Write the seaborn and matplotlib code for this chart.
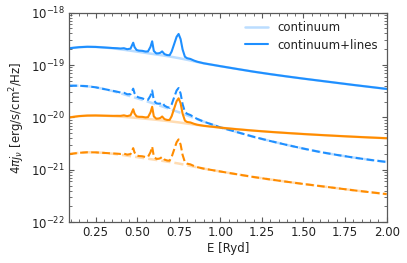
import numpy as np
import matplotlib
matplotlib.use("Agg")
import matplotlib.pyplot as plt
import seaborn as sns
from matplotlib.ticker import MultipleLocator, LogLocator, NullFormatter

# energy grid of the smooth continua [Ryd]
E_cont = [0.0911, 0.15, 0.20, 0.25, 0.30, 0.35, 0.40, 0.45, 0.50, 0.55, 0.60, 0.65,
          0.70, 0.75, 0.80, 0.85, 0.90, 1.0, 1.1, 1.2, 1.3, 1.4, 1.5, 1.6, 1.7,
          1.8, 1.9, 2.0]

# log10 of 4 pi j_nu, continuum only
log_cont_blue = [-18.680, -18.660, -18.652, -18.655, -18.665, -18.680, -18.700, -18.722,
                 -18.745, -18.768, -18.792, -18.815, -18.840, -18.868, -18.900, -18.935,
                 -18.967, -19.022, -19.075, -19.127, -19.174, -19.218, -19.260, -19.300,
                 -19.340, -19.380, -19.418, -19.456]
log_cont_blue_d = [-19.395, -19.395, -19.405, -19.425, -19.458, -19.495, -19.540, -19.587,
                   -19.635, -19.685, -19.735, -19.790, -19.845, -19.900, -19.960, -20.020,
                   -20.080, -20.190, -20.280, -20.370, -20.450, -20.525, -20.595, -20.660,
                   -20.715, -20.765, -20.810, -20.850]
log_cont_orange = [-20.000, -19.975, -19.965, -19.963, -19.967, -19.975, -19.985, -19.997,
                   -20.010, -20.025, -20.040, -20.057, -20.075, -20.095, -20.117, -20.140,
                   -20.160, -20.195, -20.225, -20.252, -20.276, -20.297, -20.317, -20.335,
                   -20.352, -20.368, -20.383, -20.397]
log_cont_orange_d = [-20.700, -20.675, -20.665, -20.667, -20.677, -20.692, -20.712, -20.735,
                     -20.758, -20.781, -20.805, -20.828, -20.853, -20.880, -20.912, -20.945,
                     -20.977, -21.032, -21.085, -21.137, -21.184, -21.228, -21.270, -21.310,
                     -21.350, -21.390, -21.427, -21.463]

# energy grid of continuum+lines [Ryd]
E_tot = [0.0911, 0.15, 0.20, 0.25, 0.30, 0.35, 0.38, 0.40, 0.42, 0.44, 0.46, 0.468,
         0.476, 0.484, 0.496, 0.51, 0.53, 0.55, 0.565, 0.58, 0.59, 0.60, 0.615, 0.63,
         0.64, 0.65, 0.664, 0.68, 0.695, 0.707, 0.721, 0.737, 0.749, 0.761, 0.773,
         0.787, 0.80, 0.82, 0.84, 0.86, 0.90, 1.0, 1.1, 1.2, 1.3, 1.4, 1.5, 1.6, 1.7,
         1.8, 1.9, 2.0]

log_tot_blue = [-18.680, -18.660, -18.652, -18.655, -18.665, -18.675, -18.680, -18.685,
                -18.679, -18.698, -18.687, -18.630, -18.574, -18.657, -18.713, -18.725,
                -18.729, -18.743, -18.740, -18.652, -18.547, -18.732, -18.779, -18.776,
                -18.765, -18.740, -18.792, -18.810, -18.813, -18.744, -18.612, -18.461,
                -18.407, -18.505, -18.703, -18.842, -18.870, -18.884, -18.913, -18.936,
                -18.967, -19.022, -19.075, -19.127, -19.174, -19.218, -19.260, -19.300,
                -19.340, -19.380, -19.418, -19.456]
log_tot_blue_d = [-19.395, -19.395, -19.405, -19.425, -19.458, -19.490, -19.510, -19.525,
                  -19.529, -19.558, -19.556, -19.504, -19.451, -19.538, -19.599, -19.620,
                  -19.635, -19.660, -19.665, -19.585, -19.485, -19.675, -19.732, -19.738,
                  -19.734, -19.715, -19.775, -19.803, -19.815, -19.753, -19.628, -19.486,
                  -19.439, -19.543, -19.748, -19.894, -19.930, -19.954, -19.993, -20.027,
                  -20.080, -20.190, -20.280, -20.370, -20.450, -20.525, -20.595, -20.660,
                  -20.715, -20.765, -20.810, -20.850]
log_tot_orange = [-20.000, -19.975, -19.965, -19.963, -19.967, -19.970, -19.969, -19.970,
                  -19.960, -19.975, -19.959, -19.902, -19.844, -19.926, -19.979, -19.988,
                  -19.989, -20.000, -19.995, -19.904, -19.797, -19.980, -20.025, -20.020,
                  -20.009, -19.982, -20.032, -20.048, -20.048, -19.978, -19.843, -19.690,
                  -19.635, -19.730, -19.927, -20.061, -20.087, -20.096, -20.120, -20.139,
                  -20.160, -20.195, -20.225, -20.252, -20.276, -20.297, -20.317, -20.335,
                  -20.352, -20.368, -20.383, -20.397]
log_tot_orange_d = [-20.700, -20.675, -20.665, -20.667, -20.677, -20.687, -20.692, -20.697,
                    -20.691, -20.710, -20.699, -20.642, -20.586, -20.669, -20.725, -20.737,
                    -20.741, -20.755, -20.752, -20.664, -20.559, -20.744, -20.791, -20.788,
                    -20.777, -20.752, -20.804, -20.822, -20.825, -20.756, -20.624, -20.473,
                    -20.419, -20.517, -20.715, -20.854, -20.882, -20.896, -20.925, -20.948,
                    -20.977, -21.032, -21.085, -21.137, -21.184, -21.228, -21.270, -21.310,
                    -21.350, -21.390, -21.427, -21.463]

BLUE = "#1e8fff"
ORANGE = "#ff8c00"

sns.set_style("ticks")
plt.rcParams["font.family"] = ["DejaVu Sans"]
plt.rcParams["font.size"] = 8.5

fig, ax = plt.subplots(figsize=(4.07, 2.63), dpi=100)
fig.subplots_adjust(left=0.170, right=0.950, top=0.952, bottom=0.155)

series = [
    (log_cont_blue, log_tot_blue, BLUE, "-"),
    (log_cont_blue_d, log_tot_blue_d, BLUE, "--"),
    (log_cont_orange, log_tot_orange, ORANGE, "-"),
    (log_cont_orange_d, log_tot_orange_d, ORANGE, "--"),
]
for i, (lc, lt, col, ls) in enumerate(series):
    sns.lineplot(x=E_cont, y=np.power(10.0, lc), ax=ax, color=col, alpha=0.3,
                 lw=1.8, linestyle=ls, label="continuum" if i == 0 else None)
    sns.lineplot(x=E_tot, y=np.power(10.0, lt), ax=ax, color=col, lw=1.5,
                 linestyle=ls, label="continuum+lines" if i == 0 else None)

ax.set_yscale("log")
ax.set_xlim(0.0911, 2.0)
ax.set_ylim(1e-22, 1e-18)
ax.xaxis.set_major_locator(MultipleLocator(0.25))
ax.xaxis.set_minor_locator(MultipleLocator(0.05))
ax.yaxis.set_major_locator(LogLocator(base=10, numticks=10))
ax.yaxis.set_minor_locator(LogLocator(base=10, subs=np.arange(2, 10), numticks=20))
ax.yaxis.set_minor_formatter(NullFormatter())

ax.tick_params(which="both", direction="in", top=True, right=True, color="0.35",
               labelcolor="#222222")
ax.tick_params(which="major", length=3.5, width=0.8, pad=3)
ax.tick_params(which="minor", length=2, width=0.6)
for sp in ax.spines.values():
    sp.set_color("0.35")
    sp.set_linewidth(0.9)

ax.set_xlabel("E [Ryd]", color="#222222", labelpad=2)
ax.set_ylabel(r"4$\pi j_\nu$ [erg/s/cm$^2$/Hz]", color="#222222", labelpad=3)

leg = ax.legend(loc="upper right", frameon=False, handlelength=2.0,
                borderaxespad=0.3, labelspacing=0.4)
for t in leg.get_texts():
    t.set_color("#222222")

fig.savefig("out.png", dpi=100)
